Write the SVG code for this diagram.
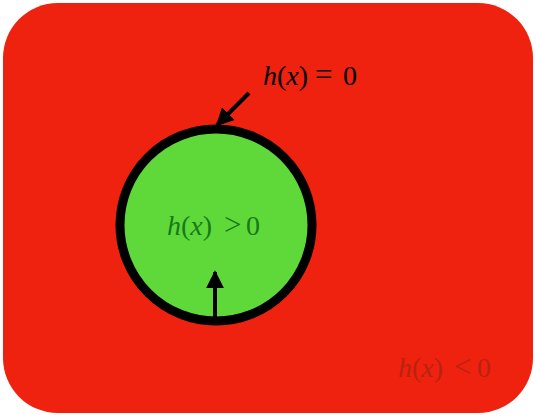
<svg xmlns="http://www.w3.org/2000/svg" width="536" height="416" viewBox="0 0 536 416">
<style>
.t{font-family:"Liberation Serif","DejaVu Serif",serif;font-size:28px}
.i{font-style:italic}
.r{font-size:31px}
</style>
<defs>
<marker id="ah" viewBox="0 0 10 10" refX="9" refY="5" markerWidth="4.5" markerHeight="4.5" orient="auto" markerUnits="strokeWidth">
<path d="M0,0 L10,5 L0,10 z" fill="#000"/>
</marker>
</defs>
<g id="outside">
<rect x="3" y="3" width="530" height="410" rx="55" ry="55" fill="#ee220f"/>
<text class="t" y="377" fill="#b8230f"><tspan x="398" class="i">h</tspan>(<tspan class="i">x</tspan>)<tspan x="454" class="r">&lt;</tspan><tspan x="477">0</tspan></text>
</g>
<g id="inside">
<circle cx="216" cy="225" r="96" fill="#5fd93a" stroke="#000" stroke-width="9"/>
<text class="t" y="235" fill="#17791a"><tspan x="167" class="i">h</tspan>(<tspan class="i">x</tspan>)<tspan x="224" class="r">&gt;</tspan><tspan x="246">0</tspan></text>
</g>
<g id="boundary-label">
<text class="t" y="85" fill="#000"><tspan x="263" class="i">h</tspan>(<tspan class="i">x</tspan>)<tspan x="315" class="r">=</tspan><tspan x="343">0</tspan></text>
</g>
<g id="connectors">
<line x1="249" y1="93" x2="217" y2="125" stroke="#000" stroke-width="4" marker-end="url(#ah)"/>
<line x1="215" y1="318" x2="215" y2="272" stroke="#000" stroke-width="4" marker-end="url(#ah)"/>
</g>
</svg>
